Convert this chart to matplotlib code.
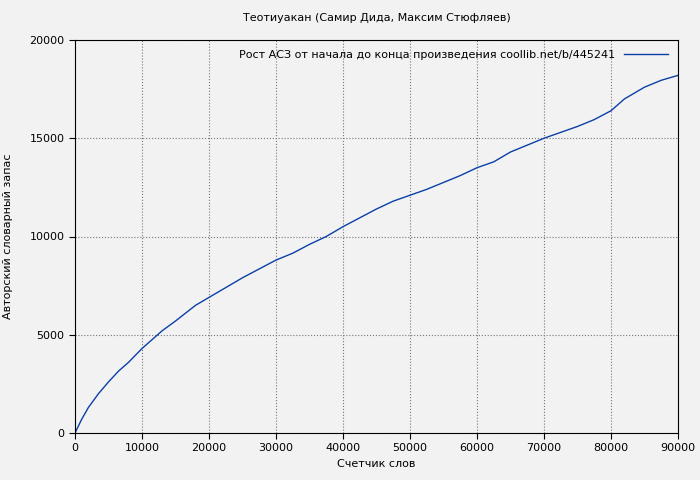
import matplotlib
matplotlib.use("Agg")
import matplotlib.pyplot as plt

words = [0, 500, 1000, 2000, 3500, 5000, 6500, 8000, 10000, 11500, 13000, 15000, 18000, 20000,
         22500, 25000, 27500, 30000, 32500, 35000, 37500, 40000, 42500, 45000, 47500,
         50000, 52500, 55000, 57500, 60000, 62500, 65000, 67500, 70000, 72500, 75000,
         77500, 80000, 81000, 82000, 83500, 85000, 87500, 90000]
vocab = [0, 350, 700, 1300, 2000, 2600, 3150, 3600, 4300, 4750, 5200, 5700, 6500, 6900,
         7400, 7900, 8350, 8800, 9150, 9600, 10000, 10500, 10950, 11400, 11800,
         12100, 12400, 12750, 13100, 13500, 13800, 14300, 14650, 15000, 15300, 15600,
         15950, 16400, 16700, 17000, 17300, 17600, 17950, 18200]

plt.rcParams['font.family'] = ['DejaVu Sans']
plt.rcParams['font.size'] = 8

fig = plt.figure(figsize=(7, 4.8), dpi=100, facecolor='#f2f2f2')
ax = fig.add_axes([75/700, 1-433/480, 603/700, 393/480], facecolor='#f2f2f2')
ax.plot(words, vocab, color='#0b3fa8', lw=1,
        label='Рост АСЗ от начала до конца произведения coollib.net/b/445241')
ax.set_xlim(0, 90000)
ax.set_ylim(0, 20000)
ax.set_xticks(range(0, 90001, 10000))
ax.set_yticks(range(0, 20001, 5000))
ax.grid(True, color='#777777', ls=':', lw=0.8)
ax.tick_params(direction='out', length=4)
ax.set_xlabel('Счетчик слов')
ax.set_ylabel('Авторский словарный запас', labelpad=12)
ax.set_title('Теотиуакан (Самир Дида, Максим Стюфляев)', fontsize=8, pad=14)
leg = ax.legend(loc='upper right', frameon=False, markerfirst=False, handlelength=4)
fig.savefig('out.png', dpi=100, facecolor='#f2f2f2')
